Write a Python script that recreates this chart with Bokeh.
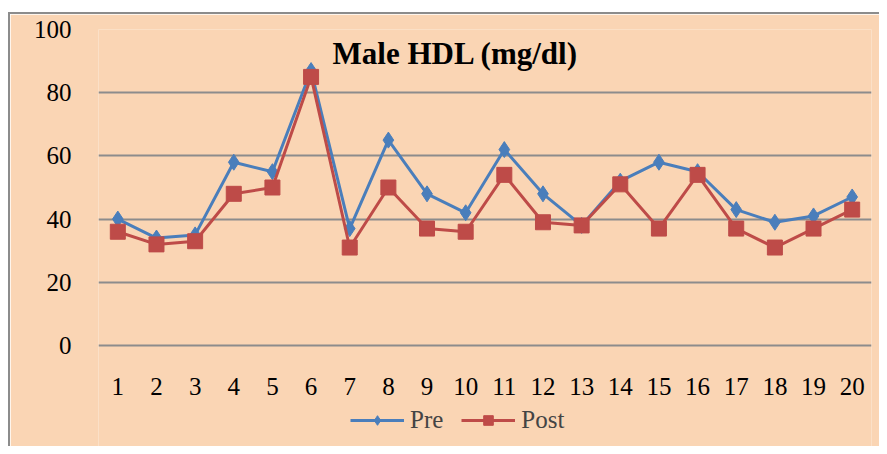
from bokeh.plotting import figure
from bokeh.models import Legend, LegendItem, Label, FixedTicker, ColumnDataSource
from bokeh.embed import file_html
from bokeh.resources import INLINE

subjects = list(range(1, 21))
pre = [40, 34, 35, 58, 55, 87, 37, 65, 48, 42, 62, 48, 38, 52, 58, 55, 43, 39, 41, 47]
post = [36, 32, 33, 48, 50, 85, 31, 50, 37, 36, 54, 39, 38, 51, 37, 54, 37, 31, 37, 43]
y_ticks = [0, 20, 40, 60, 80, 100]
title_text = "Male HDL (mg/dl)"

BG = "#FAD5B4"
BLUE = "#4A7EBB"
RED = "#BE4B48"
GRID = "#8C8C8C"
FONT = "'Liberation Serif', 'Times New Roman', serif"

src = ColumnDataSource(dict(x=subjects, pre=pre, post=post))

# frame runs to the bottom of the canvas so the legend below the axis is not clipped;
# value 0 sits 101 px above the bottom, value 100 sits 316 px above value 0
p = figure(frame_width=773, frame_height=417, output_backend="svg", toolbar_location=None,
           x_range=(0.5, 20.5), y_range=(-101 / 316 * 100, 100),
           min_border_left=88, min_border_right=8, min_border_top=15, min_border_bottom=0)
p.styles = {"margin-left": "8px", "margin-top": "12px",
            "border-top": "2px solid #8C8C8C", "border-left": "2px solid #8C8C8C"}
p.background_fill_color = BG
p.border_fill_color = BG
p.outline_line_color = None

p.xgrid.grid_line_color = None
p.ygrid.grid_line_color = GRID
p.ygrid.grid_line_width = 2
p.ygrid.ticker = FixedTicker(ticks=y_ticks)

p.yaxis.ticker = FixedTicker(ticks=y_ticks)
p.xaxis.ticker = FixedTicker(ticks=subjects)
p.xaxis.fixed_location = 0
for ax in (p.xaxis, p.yaxis):
    ax.axis_line_color = None
    ax.major_tick_line_color = None
    ax.minor_tick_line_color = None
    ax.major_label_text_font = FONT
    ax.major_label_text_font_size = "25px"
    ax.major_label_text_color = "black"
p.yaxis.major_label_standoff = 21
p.xaxis.major_label_standoff = 26

l1 = p.line("x", "pre", source=src, line_color=BLUE, line_width=3)
m1 = p.scatter("x", "pre", source=src, marker="diamond", size=16, fill_color=BLUE, line_color=BLUE)
l2 = p.line("x", "post", source=src, line_color=RED, line_width=3)
m2 = p.scatter("x", "post", source=src, marker="square", size=15, fill_color=RED, line_color=RED)

p.add_layout(Label(x=9.74, y=92.3, text=title_text, text_font=FONT, text_font_size="31px",
                   text_font_style="bold", text_align="center", text_baseline="middle",
                   text_color="black"))

legend = Legend(items=[LegendItem(label="Pre", renderers=[l1, m1]),
                       LegendItem(label="Post", renderers=[l2, m2])],
                orientation="horizontal", location=(252, 12),
                label_text_font=FONT, label_text_font_size="25px",
                glyph_width=54, glyph_height=24, label_standoff=6, spacing=18,
                padding=0, margin=0, border_line_color=None, background_fill_alpha=0)
p.add_layout(legend, "center")

open("out.html", "w").write(file_html(p, INLINE))
